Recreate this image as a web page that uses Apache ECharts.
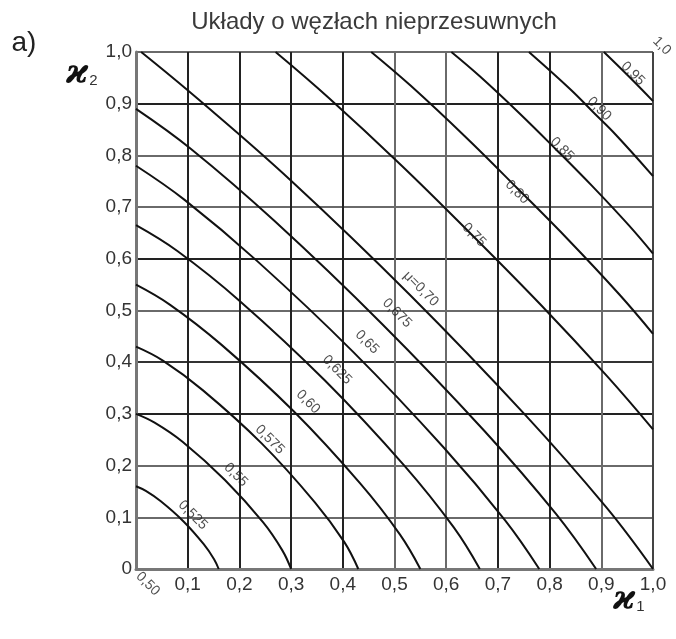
<!DOCTYPE html>
<html>
<head>
<meta charset="utf-8">
<script src="https://cdn.jsdelivr.net/npm/echarts@6/dist/echarts.min.js"></script>
<style>
  html, body { margin: 0; padding: 0; background: #fff; }
  #chart { width: 676px; height: 639px; }
</style>
</head>
<body>
<div id="chart"></div>
<script>
// tick labels (comma decimal, as in the original)
const xTickLabels = ['', '0,1', '0,2', '0,3', '0,4', '0,5', '0,6', '0,7', '0,8', '0,9', '1,0'];
const yTickLabels = ['0', '0,1', '0,2', '0,3', '0,4', '0,5', '0,6', '0,7', '0,8', '0,9', '1,0'];

// curves mu = const, points [kappa1, kappa2]
const curve0525 = [[0, 0.16], [0.019, 0.151], [0.048, 0.131], [0.092, 0.092], [0.131, 0.048], [0.151, 0.019], [0.16, 0]];
const curve0550 = [[0, 0.30], [0.036, 0.283], [0.09, 0.246], [0.172, 0.172], [0.246, 0.09], [0.283, 0.036], [0.30, 0]];
const curve0575 = [[0, 0.43], [0.052, 0.403], [0.129, 0.346], [0.243, 0.243], [0.346, 0.129], [0.403, 0.052], [0.43, 0]];
const curve0600 = [[0, 0.55], [0.066, 0.511], [0.165, 0.434], [0.305, 0.305], [0.434, 0.165], [0.511, 0.066], [0.55, 0]];
const curve0625 = [[0, 0.665], [0.08, 0.615], [0.2, 0.519], [0.365, 0.365], [0.519, 0.2], [0.615, 0.08], [0.665, 0]];
const curve0650 = [[0, 0.78], [0.094, 0.714], [0.234, 0.596], [0.42, 0.42], [0.596, 0.234], [0.714, 0.094], [0.78, 0]];
const curve0675 = [[0, 0.89], [0.107, 0.812], [0.267, 0.674], [0.475, 0.475], [0.674, 0.267], [0.812, 0.107], [0.89, 0]];
const curve0700 = [[0.01, 1], [0.12, 0.909], [0.3, 0.751], [0.53, 0.53], [0.751, 0.3], [0.909, 0.12], [1, 0]];
const curve0750 = [[0.27, 1], [0.372, 0.912], [0.513, 0.781], [0.648, 0.648], [0.781, 0.513], [0.912, 0.372], [1, 0.27]];
const curve0800 = [[0.455, 1], [0.531, 0.935], [0.636, 0.837], [0.737, 0.737], [0.837, 0.636], [0.935, 0.531], [1, 0.455]];
const curve0850 = [[0.61, 1], [0.665, 0.953], [0.74, 0.883], [0.812, 0.812], [0.883, 0.74], [0.953, 0.665], [1, 0.61]];
const curve0900 = [[0.76, 1], [0.84, 0.928], [0.884, 0.884], [0.928, 0.84], [1, 0.76]];
const curve0950 = [[0.905, 1], [0.953, 0.953], [1, 0.905]];

// curve labels and where they sit (data coords)
const labelTexts = ['0,50', '0,525', '0,55', '0,575', '0,60', '0,625', '0,65', '0,675', 'μ=0,70', '0,75', '0,80', '0,85', '0,90', '0,95', '1,0'];
const labelPos = [[0.023, -0.029], [0.11, 0.104], [0.193, 0.182], [0.259, 0.25], [0.333, 0.323], [0.389, 0.385],
  [0.447, 0.439], [0.505, 0.495], [0.551, 0.542], [0.654, 0.646], [0.737, 0.729], [0.824, 0.812],
  [0.896, 0.89], [0.961, 0.958], [1.017, 1.012]];

const curves = [curve0525, curve0550, curve0575, curve0600, curve0625, curve0650, curve0675,
  curve0700, curve0750, curve0800, curve0850, curve0900, curve0950];

const font = 'Liberation Sans, Arial, sans-serif';
// the scanned grid has black and grey lines, in this order from 0 to 1
const gridX = ['#6a6a6a', '#222', '#222', '#222', '#222', '#6a6a6a', '#6a6a6a', '#222', '#222', '#6a6a6a', '#444'];
const gridY = ['#6a6a6a', '#6a6a6a', '#6a6a6a', '#222', '#333', '#6a6a6a', '#222', '#6a6a6a', '#6a6a6a', '#222', '#6a6a6a'];

const chart = echarts.init(document.getElementById('chart'));

const series = curves.map(function (c) {
  return {
    type: 'line',
    data: c,
    smooth: 0.4,
    showSymbol: false,
    silent: true,
    lineStyle: { color: '#111', width: 2 },
    z: 3
  };
});

series.push({
  type: 'scatter',
  symbolSize: 0,
  clip: false,
  silent: true,
  data: labelPos.map(function (p, i) {
    return { value: p, name: labelTexts[i] };
  }),
  label: {
    show: true,
    position: 'inside',
    rotate: -45,
    formatter: function (p) { return p.name; },
    fontFamily: font,
    fontSize: 14,
    color: '#222'
  },
  z: 5
});

const option = {
  animation: false,
  grid: { left: 136, top: 52, width: 517, height: 517 },
  xAxis: {
    type: 'value',
    min: 0,
    max: 1,
    interval: 0.1,
    axisLine: { show: true, lineStyle: { color: '#777', width: 3 } },
    axisTick: { show: false },
    axisLabel: {
      margin: 6,
      fontFamily: font,
      fontSize: 19,
      color: '#333',
      formatter: function (v, i) { return xTickLabels[i]; }
    },
    splitLine: { show: true, lineStyle: { color: gridX, width: 2 } }
  },
  yAxis: {
    type: 'value',
    min: 0,
    max: 1,
    interval: 0.1,
    axisLine: { show: true, lineStyle: { color: '#777', width: 3 } },
    axisTick: { show: false },
    axisLabel: {
      margin: 4,
      fontFamily: font,
      fontSize: 19,
      color: '#333',
      formatter: function (v, i) { return yTickLabels[i]; }
    },
    splitLine: { show: true, lineStyle: { color: gridY, width: 2 } }
  },
  graphic: [
    {
      type: 'text', x: 374, y: 22,
      style: { text: 'Układy o węzłach nieprzesuwnych', font: '24px ' + font, fill: '#3a3a3a', align: 'center', verticalAlign: 'middle' }
    },
    {
      type: 'text', x: 24, y: 43,
      style: { text: 'a)', font: '28px ' + font, fill: '#222', align: 'center', verticalAlign: 'middle' }
    },
    {
      type: 'text', x: 66, y: 74,
      style: {
        text: '{k|ϰ}{s|2}',
        verticalAlign: 'middle',
        rich: {
          k: { font: 'italic bold 34px DejaVu Serif', fill: '#111' },
          s: { font: '15px ' + font, fill: '#333', padding: [14, 0, 0, 1] }
        }
      }
    },
    {
      type: 'text', x: 613, y: 600,
      style: {
        text: '{k|ϰ}{s|1}',
        verticalAlign: 'middle',
        rich: {
          k: { font: 'italic bold 34px DejaVu Serif', fill: '#111' },
          s: { font: '15px ' + font, fill: '#333', padding: [14, 0, 0, 1] }
        }
      }
    }
  ],
  series: series
};

chart.setOption(option);
</script>
</body>
</html>
